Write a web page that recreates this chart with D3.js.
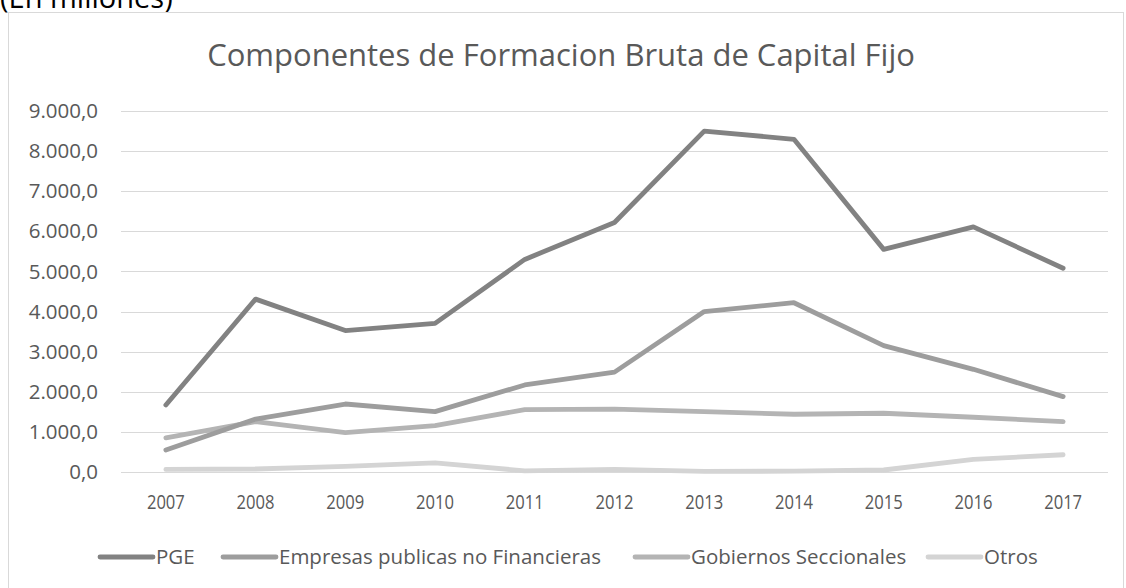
<!DOCTYPE html>
<html>
<head>
<meta charset="utf-8">
<script src="https://cdn.jsdelivr.net/npm/d3@7/dist/d3.min.js"></script>
<style>
  body { margin: 0; background: #fff; }
  svg { display: block; font-family: "Open Sans", sans-serif; }
</style>
</head>
<body>
<div id="chart"></div>
<script>
// Data (millones)
const years = ["2007", "2008", "2009", "2010", "2011", "2012", "2013", "2014", "2015", "2016", "2017"];
const pge = [1670, 4310, 3525, 3705, 5300, 6220, 8500, 8295, 5550, 6110, 5080];
const empresas = [550, 1320, 1695, 1505, 2170, 2490, 4000, 4220, 3150, 2560, 1880];
const gobiernos = [850, 1255, 980, 1155, 1555, 1570, 1505, 1440, 1465, 1365, 1255];
const otros = [65, 75, 140, 230, 30, 65, 15, 20, 50, 315, 430];
const yTicks = [0, 1000, 2000, 3000, 4000, 5000, 6000, 7000, 8000, 9000];

const series = [
    { name: "PGE", values: pge, color: "#828282" },
    { name: "Empresas publicas no Financieras", values: empresas, color: "#9d9d9d" },
    { name: "Gobiernos Seccionales", values: gobiernos, color: "#b4b4b4" },
    { name: "Otros", values: otros, color: "#d4d4d4" }
];

const width = 1126, height = 588;
const plot = { left: 121, right: 1108, top: 111, bottom: 472 };

const svg = d3.select("#chart").append("svg")
    .attr("width", width)
    .attr("height", height);

// caption above the chart box, partly cut off at the top
svg.append("text")
    .attr("x", 0)
    .attr("y", 8)
    .attr("font-size", "29px")
    .attr("fill", "#000")
    .text("(En millones)");

// chart area border
svg.append("rect")
    .attr("x", 8.5)
    .attr("y", 12.5)
    .attr("width", 1115)
    .attr("height", 600)
    .attr("fill", "#fff")
    .attr("stroke", "#d9d9d9")
    .attr("stroke-width", 1);

// title
svg.append("text")
    .attr("x", 561)
    .attr("y", 66)
    .attr("text-anchor", "middle")
    .attr("font-size", "31px")
    .attr("fill", "#595959")
    .text("Componentes de Formacion Bruta de Capital Fijo");

const x = d3.scaleBand()
    .domain(years)
    .range([plot.left, plot.right]);

const y = d3.scaleLinear()
    .domain([0, 9000])
    .range([plot.bottom, plot.top]);

const fmt = v => d3.format(",.1f")(v).replace(/,/g, "#").replace(".", ",").replace(/#/g, ".");

// gridlines
svg.append("g")
    .selectAll("line")
    .data(yTicks)
    .join("line")
    .attr("x1", plot.left)
    .attr("x2", plot.right)
    .attr("y1", d => Math.round(y(d)) + 0.5)
    .attr("y2", d => Math.round(y(d)) + 0.5)
    .attr("stroke", "#d9d9d9")
    .attr("stroke-width", 1);

// y axis labels
const yAxis = svg.append("g")
    .attr("transform", `translate(${plot.left - 23},0)`)
    .call(d3.axisLeft(y).tickValues(yTicks).tickFormat(fmt).tickSize(0).tickPadding(0));
yAxis.select(".domain").remove();
yAxis.selectAll("text")
    .attr("font-family", "Open Sans, sans-serif")
    .attr("font-size", "20.5px")
    .attr("fill", "#595959");

// x axis labels (condensed look as in the reference)
const xAxis = svg.append("g")
    .attr("transform", `translate(0,${plot.bottom + 23})`)
    .call(d3.axisBottom(x).tickSize(0).tickPadding(0));
xAxis.select(".domain").remove();
xAxis.selectAll("text")
    .attr("font-family", "Open Sans, sans-serif")
    .attr("font-size", "20px")
    .attr("transform", "scale(0.83,1)")
    .attr("fill", "#595959");

// lines
const line = d3.line()
    .x((d, i) => x(years[i]) + x.bandwidth() / 2)
    .y(d => y(d));

svg.append("g")
    .selectAll("path")
    .data(series.slice().reverse())
    .join("path")
    .attr("d", d => line(d.values))
    .attr("fill", "none")
    .attr("stroke", d => d.color)
    .attr("stroke-width", 4.8)
    .attr("stroke-linecap", "round")
    .attr("stroke-linejoin", "round");

// legend
const legendX = [100, 223, 635, 928];
const legend = svg.append("g")
    .selectAll("g")
    .data(series)
    .join("g")
    .attr("transform", (d, i) => `translate(${legendX[i]},557)`);

legend.append("line")
    .attr("x1", 0)
    .attr("x2", 53)
    .attr("stroke", d => d.color)
    .attr("stroke-width", 4.8)
    .attr("stroke-linecap", "round");

legend.append("text")
    .attr("x", 56)
    .attr("dy", "0.35em")
    .attr("font-size", "20.5px")
    .attr("fill", "#595959")
    .text(d => d.name);
</script>
</body>
</html>
